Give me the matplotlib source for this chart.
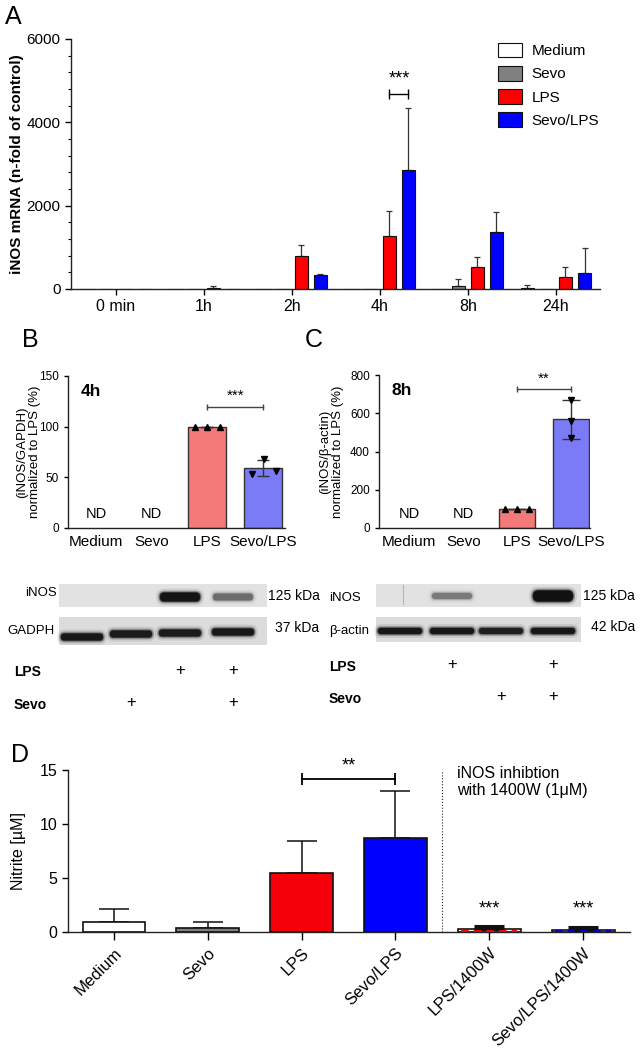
import matplotlib
matplotlib.use("Agg")
import matplotlib.pyplot as plt
from matplotlib.patches import Rectangle, FancyBboxPatch, Patch
from matplotlib.ticker import MultipleLocator
import numpy as np

plt.rcParams["font.family"] = ["Liberation Sans", "DejaVu Sans"]

W, H = 642, 1050

# ---------------- data ----------------
# A: iNOS mRNA time course
a_times = ["0 min", "1h", "2h", "4h", "8h", "24h"]
a_groups = ["Medium", "Sevo", "LPS", "Sevo/LPS"]
a_medium = [0, 5, 5, 0, 5, 30]
a_medium_err = [0, 0, 0, 0, 0, 70]
a_sevo = [0, 5, 10, 0, 70, 5]
a_sevo_err = [0, 0, 0, 0, 170, 0]
a_lps = [0, 35, 800, 1265, 535, 295]
a_lps_err = [0, 45, 250, 615, 240, 225]
a_sevolps = [0, 5, 330, 2865, 1360, 390]
a_sevolps_err = [0, 0, 40, 1470, 495, 600]

# B / C: western blot densitometry (ND = not detected)
wb_cats = ["Medium", "Sevo", "LPS", "Sevo/LPS"]
b_lps_pts = [100, 100, 100]
b_sevolps_pts = [53, 68, 56]
c_lps_pts = [100, 100, 100]
c_sevolps_pts = [670, 562, 470]

# blot band intensities (0..1), lanes left->right
blot_b_inos = [0, 0, 0.95, 0.35]
blot_b_gapdh = [0.9, 0.85, 0.85, 0.9]
blot_b_lps = [0, 0, 1, 1]
blot_b_sevo = [0, 1, 0, 1]
blot_c_inos = [0, 0.3, 0, 1.0]
blot_c_actin = [0.9, 0.9, 0.8, 0.9]
blot_c_lps = [0, 1, 0, 1]
blot_c_sevo = [0, 0, 1, 1]

# D: nitrite
d_cats = ["Medium", "Sevo", "LPS", "Sevo/LPS", "LPS/1400W", "Sevo/LPS/1400W"]
d_mean = [0.9, 0.37, 5.48, 8.74, 0.25, 0.2]
d_err = [1.25, 0.6, 2.98, 4.34, 0.33, 0.3]

fig = plt.figure(figsize=(W / 100, H / 100), dpi=100)


def axes_px(l, t, r, b):
    return fig.add_axes([l / W, 1 - b / H, (r - l) / W, (b - t) / H])


def style(ax):
    for s in ["top", "right"]:
        ax.spines[s].set_visible(False)
    for s in ["left", "bottom"]:
        ax.spines[s].set_linewidth(1.0)
        ax.spines[s].set_color("#222")


def bracket(ax, x0, x1, y, ms, color="k", lw=1.0):
    ax.plot([x0, x1], [y, y], color=color, lw=lw, clip_on=False)
    ax.plot([x0, x1], [y, y], ls="none", marker="|", ms=ms, mew=lw,
            color=color, clip_on=False)


# ---------------- blot overlay (pixel coords) ----------------
bl = fig.add_axes([0, 0, 1, 1])
bl.set_xlim(0, W)
bl.set_ylim(H, 0)
bl.axis("off")


def band(cx, cy, w, h, v):
    if v <= 0:
        return
    for grow, a in [(8, 0.10), (4, 0.3), (1.5, 0.6), (0, 1.0)]:
        ww, hh = w + grow, h + grow
        bl.add_patch(FancyBboxPatch((cx - ww / 2, cy - hh / 2), ww, hh,
                                    boxstyle=f"round,pad=0,rounding_size={hh / 2}",
                                    fc="#111111", ec="none", alpha=a * v))


strip = "#dcdcdc"
# left blot (B)
lanes_b = [82, 131, 180, 233]
bl.add_patch(Rectangle((59, 584), 208, 23, fc="#e2e2e2", ec="none"))
bl.add_patch(Rectangle((59, 617), 208, 28, fc=strip, ec="none"))
for cx, v in zip(lanes_b, blot_b_inos):
    band(cx, 597, 40, 6 + 3 * v, v)
for cx, v, dy in zip(lanes_b, blot_b_gapdh, [4, 1, 0, -1]):
    band(cx, 633 + dy, 42, 7, v)
bl.text(57, 593, "iNOS", ha="right", va="center", fontsize=9.5)
bl.text(55, 631, "GADPH", ha="right", va="center", fontsize=9.5)
bl.text(268, 596, "125 kDa", ha="left", va="center", fontsize=10)
bl.text(275, 628, "37 kDa", ha="left", va="center", fontsize=10)
bl.text(14, 672, "LPS", ha="left", va="center", fontsize=10, fontweight="bold")
bl.text(14, 705, "Sevo", ha="left", va="center", fontsize=10, fontweight="bold")
for cx, a, b in zip(lanes_b, blot_b_lps, blot_b_sevo):
    if a:
        bl.text(cx, 670, "+", ha="center", va="center", fontsize=12)
    if b:
        bl.text(cx, 703, "+", ha="center", va="center", fontsize=12)

# right blot (C)
lanes_c = [400, 452, 501, 553]
bl.add_patch(Rectangle((376, 584), 205, 23, fc="#e2e2e2", ec="none"))
bl.add_patch(Rectangle((376, 617), 205, 25, fc=strip, ec="none"))
bl.plot([403, 403], [585, 604], color="#b5b5b5", lw=0.8)
for cx, v in zip(lanes_c, blot_c_inos):
    band(cx, 596, 40, 4 + 7 * v, v)
for cx, v in zip(lanes_c, blot_c_actin):
    band(cx, 631, 44, 6, v)
bl.text(329, 598, "iNOS", ha="left", va="center", fontsize=9.5)
bl.text(329, 631, "\u03b2-actin", ha="left", va="center", fontsize=9.5)
bl.text(583, 596, "125 kDa", ha="left", va="center", fontsize=10)
bl.text(591, 627, "42 kDa", ha="left", va="center", fontsize=10)
bl.text(329, 667, "LPS", ha="left", va="center", fontsize=10, fontweight="bold")
bl.text(329, 699, "Sevo", ha="left", va="center", fontsize=10, fontweight="bold")
for cx, a, b in zip(lanes_c, blot_c_lps, blot_c_sevo):
    if a:
        bl.text(cx, 665, "+", ha="center", va="center", fontsize=12)
    if b:
        bl.text(cx, 697, "+", ha="center", va="center", fontsize=12)

# ---------------- panel A ----------------
axA = axes_px(71, 39, 600, 289)
style(axA)
x = np.arange(len(a_times))
offs = [-0.324, -0.108, 0.108, 0.324]
cols = ["white", "#808080", "#ff0000", "#0000ff"]
series = [(a_medium, a_medium_err), (a_sevo, a_sevo_err),
          (a_lps, a_lps_err), (a_sevolps, a_sevolps_err)]
for (vals, err), dx, c, lab in zip(series, offs, cols, a_groups):
    vals = np.array(vals, float)
    err = np.array(err, float)
    axA.bar(x + dx, vals, width=0.15, color=c, edgecolor="#111", lw=0.8,
            label=lab, zorder=2)
    m = err > 0
    axA.errorbar((x + dx)[m], vals[m], yerr=[np.zeros(m.sum()), err[m]],
                 fmt="none", ecolor="#333", elinewidth=0.9, capsize=2.5,
                 capthick=0.9, zorder=1)
axA.set_xlim(-0.51, 5.5)
axA.set_ylim(0, 6000)
axA.set_yticks([0, 2000, 4000, 6000])
axA.yaxis.set_minor_locator(MultipleLocator(400))
axA.set_xticks(x)
axA.set_xticklabels(a_times, fontsize=11.5)
axA.tick_params(axis="y", labelsize=11, length=4, width=1)
axA.tick_params(axis="y", which="minor", length=2, width=0.8)
axA.tick_params(axis="x", length=4, width=1)
axA.set_ylabel("iNOS mRNA (n-fold of control)", fontsize=11, fontweight="bold")
axA.yaxis.set_label_coords(-0.088, 0.5)
bracket(axA, 3 + offs[2], 3 + offs[3], 4680, 6.5)
axA.text(3 + (offs[2] + offs[3]) / 2, 5050, "***", ha="center", va="center",
         fontsize=13)
handles = [Patch(fc=c, ec="#111", lw=0.8) for c in cols]
axA.legend(handles, a_groups, loc="upper left", bbox_to_anchor=(0.807, 0.985),
           frameon=False, fontsize=11, handlelength=1.6, handleheight=1.1,
           handletextpad=0.6, labelspacing=0.5, borderpad=0, borderaxespad=0)


# ---------------- panels B / C ----------------
def wb_panel(ax, lps_pts, sl_pts, xlim, ymax, ystep, tag, ylabel, lab_x,
             br_y, star, star_y, nd_frac, sl_offs, capsize, ms):
    style(ax)
    means = [np.mean(lps_pts), np.mean(sl_pts)]
    sds = [np.std(lps_pts, ddof=1), np.std(sl_pts, ddof=1)]
    ax.bar([2, 3], means, width=0.68, color=["#f47a7a", "#7b7bf8"],
           edgecolor="#333", lw=1.0, zorder=2)
    ax.errorbar([2, 3], means, yerr=sds, fmt="none", ecolor="#333",
                elinewidth=1.0, capsize=capsize, capthick=1.0, zorder=3)
    ax.plot(2 + np.array([-0.22, 0, 0.22]), lps_pts, ls="none", marker="^",
            ms=ms, color="k", zorder=4, clip_on=False)
    ax.plot(3 + np.array(sl_offs), sl_pts, ls="none", marker="v",
            ms=ms, color="k", zorder=4)
    for i in [0, 1]:
        ax.text(i, nd_frac, "ND", ha="center", va="center", fontsize=10.5,
                transform=ax.get_xaxis_transform())
    ax.set_xlim(*xlim)
    ax.set_ylim(0, ymax)
    ax.set_yticks(np.arange(0, ymax + 1, ystep))
    ax.set_xticks(range(4))
    ax.set_xticklabels(wb_cats, fontsize=11)
    ax.tick_params(axis="x", length=0, pad=5)
    ax.tick_params(axis="y", labelsize=8.5, length=3, width=1)
    ax.set_ylabel(ylabel, fontsize=9.5, linespacing=1.1)
    ax.yaxis.set_label_coords(lab_x, 0.5)
    ax.text(0.06, 0.9, tag, transform=ax.transAxes, ha="left", va="center",
            fontsize=12.5, fontweight="bold")
    bracket(ax, 2, 3, br_y, 5, color="#444")
    ax.text(2.5, star_y, star, ha="center", va="center", fontsize=11)


axB = axes_px(68, 376, 285, 528)
wb_panel(axB, b_lps_pts, b_sevolps_pts, (-0.5, 3.39), 150, 50, "4h",
         "(iNOS/GAPDH)\nnormalized to LPS (%)", -0.125, 119, "***", 130,
         0.09, [-0.2, 0.02, 0.22], 4, 5)
axC = axes_px(379, 375, 590, 528)
wb_panel(axC, c_lps_pts, c_sevolps_pts, (-0.56, 3.35), 800, 200, "8h",
         "(iNOS/\u03b2-actin)\nnormalized to LPS (%)", -0.165, 727, "**", 780,
         0.09, [0, 0, 0], 6.5, 5)

# ---------------- panel D ----------------
axD = axes_px(68, 770, 630, 932)
style(axD)
xd = np.arange(len(d_cats))
dcols = ["white", "#808080", "#f5000a", "#0000ff", "white", "white"]
axD.bar(xd, d_mean, width=0.67, color=dcols, edgecolor="#111", lw=1.2, zorder=2)
axD.errorbar(xd[:4], d_mean[:4], yerr=[np.zeros(4), d_err[:4]], fmt="none",
             ecolor="#111", elinewidth=1.1, capsize=11, capthick=1.1, zorder=1)
axD.errorbar(xd[4:], d_mean[4:], yerr=[np.zeros(2), d_err[4:]], fmt="none",
             ecolor="#111", elinewidth=1.8, capsize=11, capthick=2.2, zorder=3)
for xi, yi, c in zip(xd[4:], d_mean[4:], ["#ff0000", "#0000cc"]):
    axD.plot([xi - 0.3, xi + 0.3], [yi / 2, yi / 2], color=c, ls=(0, (4, 2.5)),
             lw=1.4, zorder=4)
    axD.text(xi, 2.1, "***", ha="center", va="center", fontsize=13)
axD.axvline(3.5, ymin=0, ymax=1, color="#222", ls=":", lw=0.8)
axD.text(3.66, 15.35, "iNOS inhibtion\nwith 1400W (1\u03bcM)", ha="left",
         va="top", fontsize=11.5, linespacing=1.15)
bracket(axD, 2, 3, 14.2, 8, lw=1.3)
axD.text(2.5, 15.4, "**", ha="center", va="center", fontsize=13)
axD.set_xlim(-0.49, 5.5)
axD.set_ylim(0, 15)
axD.set_yticks([0, 5, 10, 15])
axD.set_xticks(xd)
axD.set_xticklabels(d_cats, rotation=45, ha="right", va="top",
                    rotation_mode="anchor", fontsize=12)
axD.tick_params(axis="x", length=6, width=1)
axD.tick_params(axis="y", labelsize=11.5, length=4, width=1)
axD.set_ylabel("Nitrite [\u00b5M]", fontsize=11.5)
axD.yaxis.set_label_coords(-0.075, 0.5)

# ---------------- panel letters ----------------
for lab, px, py in [("A", 5, 17), ("B", 22, 340), ("C", 305, 340), ("D", 11, 755)]:
    fig.text(px / W, 1 - py / H, lab, ha="left", va="center", fontsize=18)

fig.savefig("out.png", dpi=100, facecolor="white")
